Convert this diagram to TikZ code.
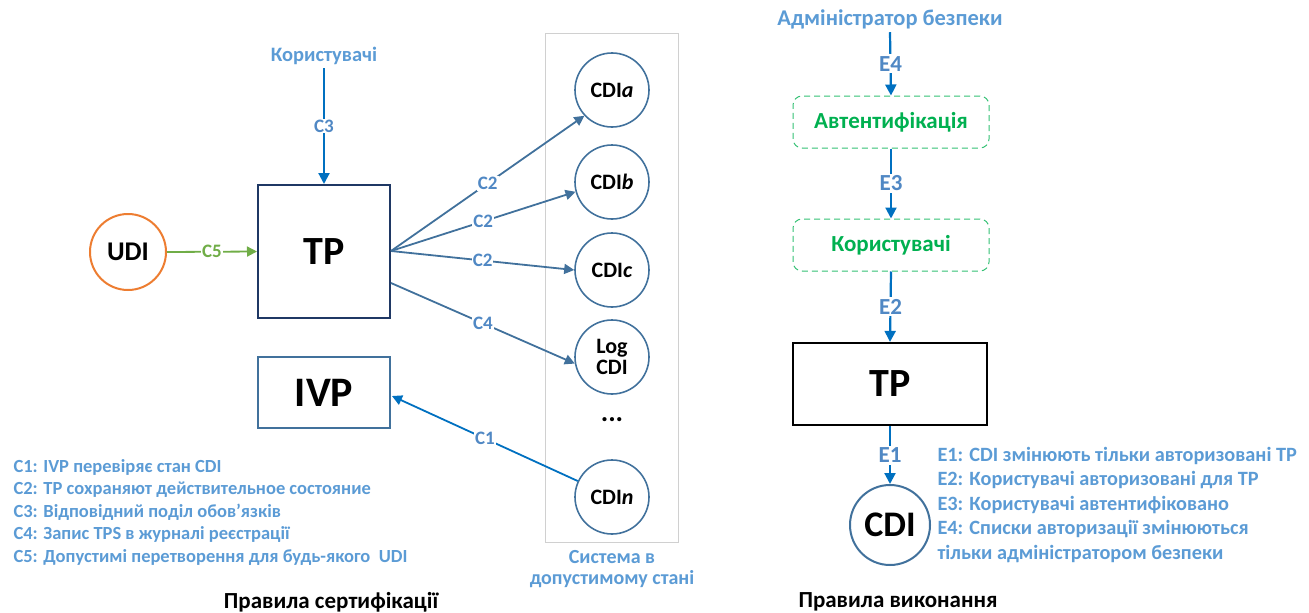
\documentclass[tikz,border=0pt]{standalone}
\usepackage{fontspec}
\setmainfont{Carlito}
\usetikzlibrary{arrows.meta}
\definecolor{lblue}{HTML}{5B9BD5}
\definecolor{lbl}{HTML}{5088C4}
\definecolor{arrblue}{HTML}{0070C0}
\definecolor{steel}{HTML}{41719C}
\definecolor{navy}{HTML}{1F3864}
\definecolor{orng}{HTML}{ED7D31}
\definecolor{grn}{HTML}{70AD47}
\definecolor{dgrn}{HTML}{00B050}
\definecolor{sysgray}{HTML}{D0D0D0}
\tikzset{
  lab/.style={fill=white,inner sep=1pt,text=lbl,font=\fontsize{19}{21}\selectfont\bfseries},
  cdic/.style={circle,draw=steel,line width=1.6pt,minimum size=74pt,inner sep=0pt,align=center,font=\fontsize{22}{24}\selectfont\bfseries},
  arr/.style={-{Triangle[length=10pt,width=10pt]},line width=1.8pt},
  arrt/.style={-{Triangle[length=11pt,width=11pt]},line width=2.2pt},
  legend/.style={anchor=west,text=lblue,align=left,font=\fontsize{18.5}{22.5}\selectfont\bfseries},
  dbox/.style={draw=dgrn!80!white,dashed,dash pattern=on 6pt off 4pt,rounded corners=9pt,line width=1pt,minimum width=196pt,minimum height=52pt,text=dgrn,font=\fontsize{23}{25}\selectfont\bfseries}
}
\begin{document}
\begin{tikzpicture}[x=1pt,y=-1pt]
\useasboundingbox (0,0) rectangle (1309,613);
% ---------- left part ----------
\node[draw=sysgray,line width=1pt,minimum width=133pt,minimum height=509pt,inner sep=0pt] (sys) at (611.5,287.5) {};
\node[text=lblue,font=\fontsize{20.5}{22}\selectfont\bfseries] (users) at (324,56) {Користувачі};
\node[draw=navy,line width=2pt,minimum width=132pt,minimum height=133pt,inner sep=0pt,font=\fontsize{40}{44}\selectfont\bfseries] (tp) at (324,251.5) {TP};
\node[circle,draw=orng,line width=2pt,minimum size=76pt,inner sep=0pt,font=\fontsize{27}{30}\selectfont\bfseries] (udi) at (128,252) {UDI};
\node[draw=steel,line width=2pt,minimum width=132pt,minimum height=71pt,inner sep=0pt,font=\fontsize{42}{44}\selectfont\bfseries] (ivp) at (324,392.5) {IVP};
\node[cdic] (cdia) at (612,90) {CDI\textit{a}};
\node[cdic] (cdib) at (612,182) {CDI\textit{b}};
\node[cdic] (cdic) at (612,270) {CDI\textit{c}};
\node[cdic] (log) at (612,357) {Log\\[-3pt]CDI};
\node[font=\fontsize{28}{30}\selectfont\bfseries] (dots) at (612,420) {...};
\node[cdic] (cdin) at (612,497) {CDI\textit{n}};
\node[text=lblue,align=center,font=\fontsize{20}{21}\selectfont\bfseries] (syslab) at (612,569) {Система в\\допустимому стані};

\coordinate (tpo) at (391,251);
\coordinate (tpo2) at (391,283);
\draw[arrt,arrblue] (users.south) -- node[lab]{C3} (tp.north);
\draw[arr,grn] (udi.east) -- node[lab,text=grn]{C5} (tp.west);
\draw[arr,steel] (tpo) -- node[lab,pos=0.5]{C2} (cdia.223);
\draw[arr,steel] (tpo) -- node[lab,pos=0.5]{C2} (cdib.195);
\draw[arr,steel] (tpo) -- node[lab,pos=0.5]{C2} (cdic.west);
\draw[arr,steel] (tpo2) -- node[lab,pos=0.5]{C4} (log.190);
\coordinate (ivpin) at (392,396);
\draw[arr,arrblue] (cdin.155) -- node[lab,pos=0.5]{C1} (ivpin);

\node[legend] (leg1) at (10,512) {C1: IVP перевіряє стан CDI\\C2: TP сохраняют действительное состояние\\C3: Відповідний поділ обов'язків\\C4: Запис TPS в журналі реєстрації\\C5: Допустимі перетворення для будь-якого\ \ UDI};
\node[font=\fontsize{23}{25}\selectfont\bfseries] (t1) at (331,602) {Правила сертифікації};

% ---------- right part ----------
\node[text=lblue,font=\fontsize{22.5}{24}\selectfont\bfseries] (admin) at (890,19) {Адміністратор безпеки};
\node[dbox] (auth) at (891,122) {Автентифікація};
\node[dbox] (usr2) at (891,245) {Користувачі};
\node[draw=black,line width=2.2pt,minimum width=194pt,minimum height=82pt,inner sep=0pt,font=\fontsize{40}{44}\selectfont\bfseries] (tp2) at (890,384) {TP};
\node[circle,draw=steel,line width=2pt,minimum size=80pt,inner sep=0pt,font=\fontsize{36}{40}\selectfont\bfseries] (cdi) at (890,525) {CDI};
\tikzset{labr/.style={lab,font=\fontsize{23}{25}\selectfont\bfseries,inner sep=2pt}}
\draw[arrt,arrblue] (admin.south) -- node[labr]{E4} (auth.north);
\draw[arrt,arrblue] (auth.south) -- node[labr]{E3} (usr2.north);
\draw[arrt,arrblue] (usr2.south) -- node[labr]{E2} (tp2.north);
\draw[arrt,arrblue] (tp2.south) -- node[labr]{E1} (cdi.north);
\node[legend,font=\fontsize{20.3}{24.5}\selectfont\bfseries] (leg2) at (934,505) {E1: CDI змінюють тільки авторизовані TP\\E2: Користувачі авторизовані для TP\\E3: Користувачі автентифіковано\\E4: Списки авторизації змінюються\\тільки адміністратором безпеки};
\node[font=\fontsize{23}{25}\selectfont\bfseries] (t2) at (898,602) {Правила виконання};
\end{tikzpicture}
\end{document}
